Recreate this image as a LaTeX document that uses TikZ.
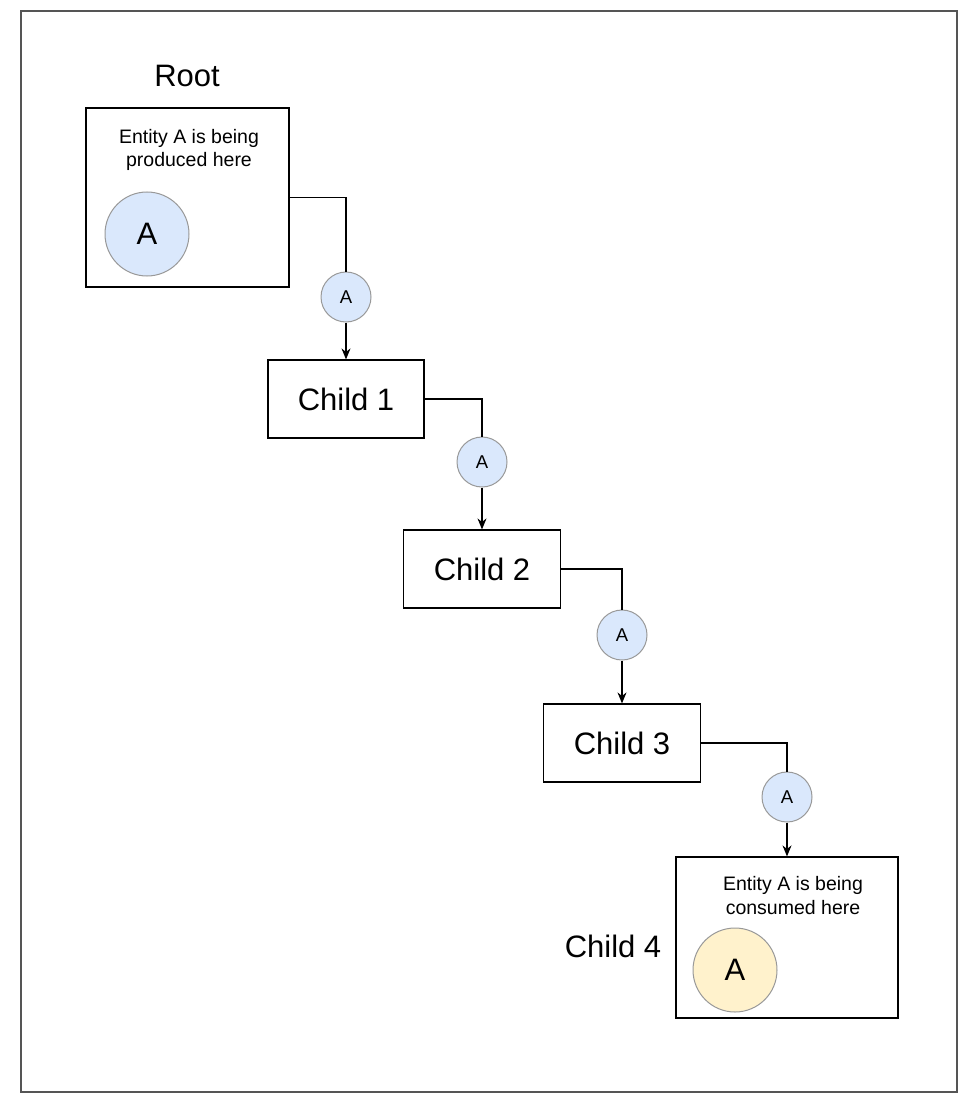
\documentclass[tikz,border=0pt]{standalone}
\usepackage{fontspec}
\setmainfont{Liberation Sans}
\usetikzlibrary{arrows.meta}
\definecolor{bluefill}{HTML}{DAE8FC}
\definecolor{yellowfill}{HTML}{FFF2CC}
\definecolor{circline}{HTML}{999999}
\definecolor{frameline}{HTML}{555555}
\tikzset{
  box/.style={draw=black, line width=1.2pt, rectangle, inner sep=0pt},
  bigtext/.style={font=\fontsize{31}{37}\selectfont},
  smalltext/.style={font=\fontsize{19.5}{23.5}\selectfont, align=center},
  token/.style={circle, draw=circline, line width=1pt, fill=bluefill, minimum size=50pt, inner sep=0pt, font=\fontsize{18.5}{22}\selectfont},
  bigtoken/.style={circle, draw=circline, line width=1pt, minimum size=84pt, inner sep=0pt, font=\fontsize{31}{37}\selectfont},
  conn/.style={draw=black, line width=1.2pt},
  arr/.style={conn, -{Stealth[length=11pt,width=9pt]}}
}
\begin{document}
\begin{tikzpicture}[x=1pt,y=-1pt]
\useasboundingbox (0,0) rectangle (974,1110);
\node[draw=frameline, line width=1.5pt, minimum width=936pt, minimum height=1081pt, inner sep=0pt] (frame) at (489,551.5) {};
% Root
\node[bigtext] (rootlabel) at (187,76) {Root};
\node[box, minimum width=203pt, minimum height=179pt] (root) at (187.5,197.5) {};
\node[smalltext] (roottext) at (189,150) {Entity A is being\\produced here};
\node[bigtoken, fill=bluefill] (rootA) at (147,234) {A};
% Children
\node[box, bigtext, minimum width=156pt, minimum height=78pt] (child1) at (346,399) {Child 1};
\node[box, bigtext, minimum width=157pt, minimum height=78pt] (child2) at (482,569) {Child 2};
\node[box, bigtext, minimum width=157pt, minimum height=78pt] (child3) at (622,743) {Child 3};
\node[box, minimum width=222pt, minimum height=161pt] (child4) at (787,937.5) {};
\node[smalltext] (child4text) at (793,895.5) {Entity A is being\\consumed here};
\node[bigtoken, fill=yellowfill] (child4A) at (735,970) {A};
\node[bigtext] (child4label) at (613,946) {Child 4};
% Tokens on connectors
\node[token] (t1) at (346,297) {A};
\node[token] (t2) at (482,462) {A};
\node[token] (t3) at (622,635) {A};
\node[token] (t4) at (787,797) {A};
% Connectors
\draw[conn] (root.east) -| (t1.north);
\draw[arr] (t1.south) -- (child1.north);
\draw[conn] (child1.east) -| (t2.north);
\draw[arr] (t2.south) -- (child2.north);
\draw[conn] (child2.east) -| (t3.north);
\draw[arr] (t3.south) -- (child3.north);
\draw[conn] (child3.east) -| (t4.north);
\draw[arr] (t4.south) -- (child4.north);
\end{tikzpicture}
\end{document}
